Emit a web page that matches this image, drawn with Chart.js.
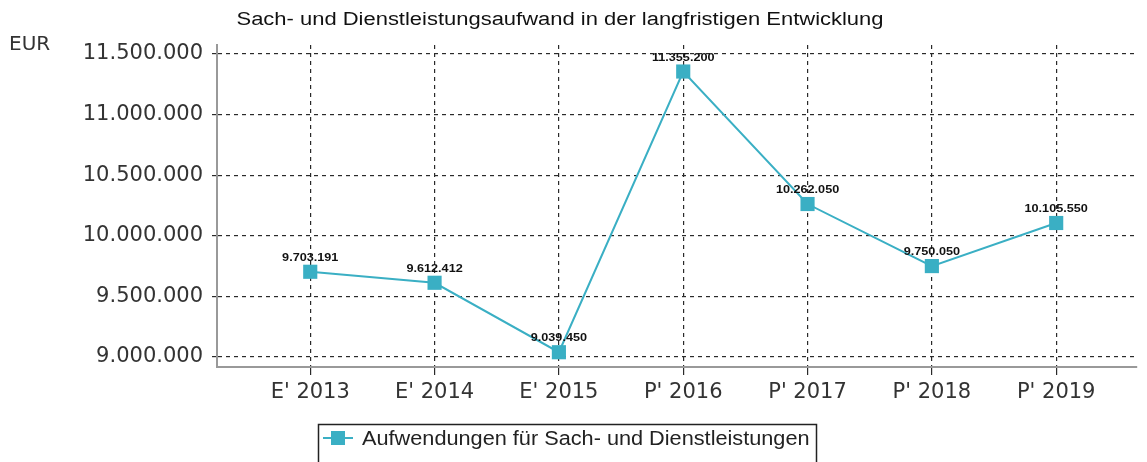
<!DOCTYPE html>
<html>
<head>
<meta charset="utf-8">
<script src="https://cdn.jsdelivr.net/npm/chart.js@4"></script>
<style>
  body { margin: 0; background: #fff; }
  canvas { display: block; }
</style>
</head>
<body>
<canvas id="chart" width="1147" height="462"></canvas>
<script>
const categories = ["E' 2013", "E' 2014", "E' 2015", "P' 2016", "P' 2017", "P' 2018", "P' 2019"];
const expenses = [9703191, 9612412, 9039450, 11355200, 10262050, 9750050, 10105550];
const yTicks = [9000000, 9500000, 10000000, 10500000, 11000000, 11500000];

const seriesLabel = 'Aufwendungen für Sach- und Dienstleistungen';
const chartTitle = 'Sach- und Dienstleistungsaufwand in der langfristigen Entwicklung';
const unitLabel = 'EUR';

const lineColor = '#3aafc4';
const fmt = v => Math.round(v).toString().replace(/\B(?=(\d{3})+(?!\d))/g, '.');

// the reference text is a little wider than these fonts, stretch it sideways
function wideText(c, text, x, y, sx) {
  c.save();
  c.translate(x, y);
  c.scale(sx, 1);
  c.fillText(text, 0, 0);
  c.restore();
}

// title, unit, value labels and framed legend
const extras = {
  id: 'extras',
  afterDatasetsDraw(chart) {
    const c = chart.ctx;
    c.save();
    c.fillStyle = '#111';
    c.textAlign = 'center';
    c.textBaseline = 'middle';
    c.font = '18px "Liberation Sans", Arial, sans-serif';
    wideText(c, chartTitle, 560, 20, 1.22);

    c.fillStyle = '#333';
    c.textAlign = 'left';
    c.font = '20px "DejaVu Sans", sans-serif';
    c.fillText(unitLabel, 9, 45);

    // value labels
    c.fillStyle = '#111';
    c.textAlign = 'center';
    c.font = 'bold 11px "Liberation Sans", Arial, sans-serif';
    chart.getDatasetMeta(0).data.forEach((pt, i) => {
      wideText(c, fmt(expenses[i]), pt.x, pt.y - 14, 1.15);
    });

    // legend
    c.strokeStyle = '#222';
    c.lineWidth = 1.5;
    c.strokeRect(318.5, 424.5, 498, 44);
    c.strokeStyle = lineColor;
    c.lineWidth = 2;
    c.beginPath();
    c.moveTo(323, 438);
    c.lineTo(353, 438);
    c.stroke();
    c.fillStyle = lineColor;
    c.fillRect(331, 431, 14, 14);
    c.fillStyle = '#222';
    c.textAlign = 'left';
    c.font = '20px "Liberation Sans", Arial, sans-serif';
    wideText(c, seriesLabel, 362, 439, 1.085);
    c.restore();
  }
};

new Chart(document.getElementById('chart'), {
  type: 'line',
  data: {
    datasets: [{
      label: seriesLabel,
      data: expenses.map((v, i) => ({ x: i, y: v })),
      borderColor: lineColor,
      backgroundColor: lineColor,
      borderWidth: 2,
      tension: 0,
      pointStyle: 'rect',
      pointRadius: 10,
      pointBorderWidth: 0
    }]
  },
  options: {
    responsive: false,
    animation: false,
    layout: { padding: { top: 45, right: 5, bottom: 35, left: 0 } },
    plugins: {
      legend: { display: false },
      title: { display: false },
      tooltip: { enabled: false }
    },
    scales: {
      x: {
        type: 'linear',
        min: -0.75,
        max: 6.65,
        afterFit: s => { s.height = 60; },
        afterBuildTicks: s => { s.ticks = categories.map((_, i) => ({ value: i })); },
        ticks: {
          stepSize: 1,
          includeBounds: false,
          callback: v => categories[v],
          color: '#333',
          font: { family: '"DejaVu Sans", sans-serif', size: 21 },
          padding: 5,
          maxRotation: 0
        },
        grid: { color: '#2a2a2a', lineWidth: 1.2, tickLength: 8 },
        border: { color: '#999', width: 2, dash: [4, 4] }
      },
      y: {
        min: 8917500,
        max: 11574000,
        afterFit: s => { s.width = 217; },
        afterBuildTicks: s => { s.ticks = yTicks.map(v => ({ value: v })); },
        ticks: {
          callback: v => fmt(v),
          color: '#333',
          font: { family: '"DejaVu Sans", sans-serif', size: 21 },
          padding: 9
        },
        grid: { color: '#2a2a2a', lineWidth: 1.2, tickLength: 5 },
        border: { color: '#999', width: 2, dash: [4, 4] }
      }
    }
  },
  plugins: [extras]
});
</script>
</body>
</html>
